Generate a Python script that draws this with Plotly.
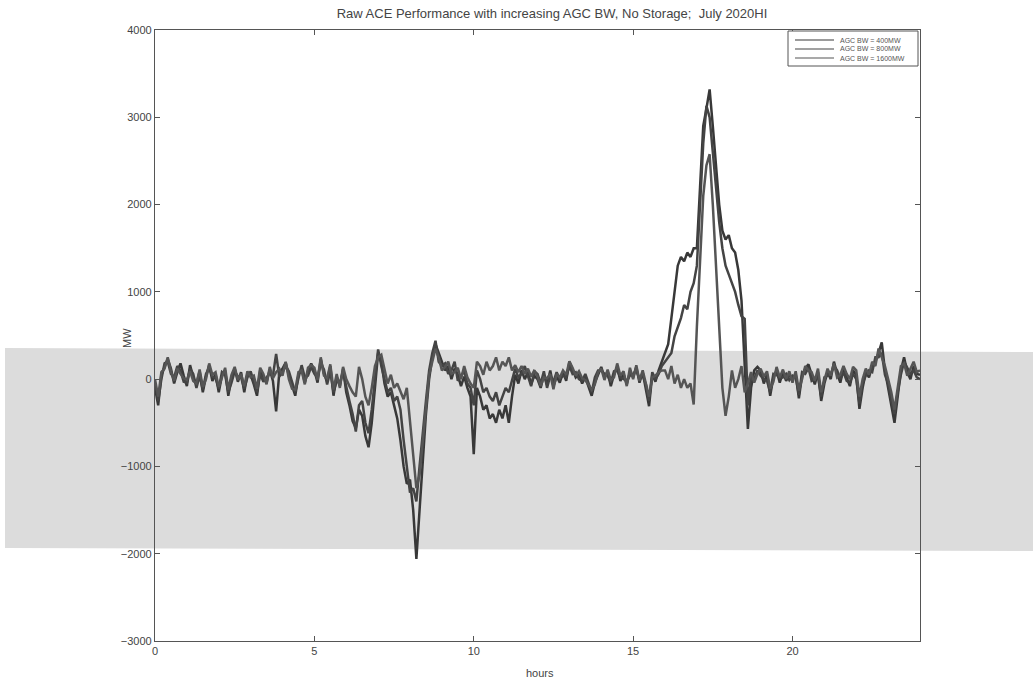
import plotly.graph_objects as go

# time axis: 0.0 .. 24.0 hours in 0.1 h steps
hours = [round(i * 0.1, 1) for i in range(241)]

ace_400 = [
    -100, -300, 50, 150, 230, 120, -50, 80, 180, 40,
    -80, 160, 20, -60, 90, -150, 30, 160, -20, 60,
    -150, 40, 100, -190, 20, 120, -30, 80, -150, 60,
    50, -60, -190, 100, 30, -40, 110, -20, -370, 80,
    120, 190, 40, -80, -190, 50, 120, -40, 90, 180,
    100, -40, 230, 60, -20, 150, -190, 30, -80, 120,
    -150, -300, -480, -560, -350, -420, -650, -780, -500, -100,
    300, 200, -50, -200, -150, -300, -450, -700, -1000, -1200,
    -1150, -1500, -2060, -1500, -900, -400, 0, 250, 400, 300,
    200, 100, 150, 0, 120, 50, -80, 30, -100, -200,
    -860, -100, -200, -350, -300, -450, -400, -500, -350, -450,
    -300, -500, -200, 50, -50, 100, 0, 80, -60, 40,
    0, -100, 50, -60, 100, -80, 30, -40, 80, -20,
    200, 100, 20, 60, -50, 20, -80, -190, -40, 50,
    140, 20, 90, -80, 50, 140, -20, 60, -60, 80,
    20, 140, -40, 80, -100, -310, 50, -30, 100, 200,
    300, 400, 700, 1000, 1300, 1400, 1350, 1450, 1400, 1500,
    1500, 2200, 2900, 3100, 3320, 2900, 2400, 2000, 1700, 1600,
    1650, 1500, 1450, 1250, 900, 200, -570, -100, 100, 140,
    100, -50, 60, -190, 20, 100, -40, 80, -20, 50,
    0, 60, -220, 40, 120, 170, 50, -60, 80, -250,
    -50, 80, 0, 200, 60, -40, 120, 30, -80, 100,
    50, -340, -100, 80, 20, 150, 200, 300, 420, 100,
    -100, -300, -500, -200, 100, 250, 80, 0, 150, 60,
    50,
]

ace_800 = [
    -50, -250, 0, 180, 200, 60, 20, 150, 100, -30,
    -40, 120, 60, -100, 40, -120, 60, 130, 30, 10,
    -110, 80, 50, -150, -40, 90, 30, 20, -110, 20,
    90, -20, -150, 60, -30, 20, 70, 40, 290, 30,
    80, 150, 90, -30, -150, 10, 160, 20, 40, 140,
    60, 20, 180, 110, -60, 90, -150, -20, -40, 80,
    -100, -250, -400, -600, -300, -250, -500, -620, -350, 0,
    340, 150, 0, -150, -100, -250, -200, -350, -700, -1000,
    -1300, -1250, -1400, -1000, -600, -250, 100, 300, 440, 200,
    150, 180, 60, 100, 200, -20, 40, 90, -50, -100,
    -300, 100, 0, -150, -100, -200, -250, -150, -300, -200,
    -100, -150, 0, 120, 20, 60, 150, 20, -80, 90,
    60, -50, 90, -100, 40, -30, 80, 0, 40, 20,
    150, 60, 80, 0, -20, 60, -40, -150, 20, 100,
    100, 60, 40, -40, 90, 100, 20, 0, -20, 40,
    60, 100, 0, 40, -60, -250, 80, 0, 60, 150,
    200, 250, 300, 490, 600, 700, 850, 800, 1000, 1100,
    1300, 2000, 2700, 3130, 3000, 2600, 2200, 1800, 1500, 1300,
    1200, 1100, 1000, 850, 720, 690, -300, 50, 0, 100,
    40, 0, -20, -150, 60, 50, 10, 20, 60, -10,
    40, 20, -180, 80, 60, 130, -20, 0, 30, -200,
    20, 40, 60, 150, 100, 0, 80, -20, -40, 60,
    0, -280, -50, 40, 100, 80, 250, 250, 300, 50,
    -50, -250, -400, -150, 50, 200, 120, 60, 100, 20,
    0,
]

ace_1600 = [
    0, -200, 80, 120, 250, 90, -20, 120, 60, 10,
    -10, 90, -20, -50, 110, -90, 0, 180, 50, 80,
    -90, 10, 130, -120, 50, 140, -10, 60, -80, 90,
    20, 40, -110, 130, 60, -60, 140, 10, 80, 120,
    40, 200, 0, -110, -120, 80, 100, -60, 130, 160,
    130, -10, 250, 40, 10, 170, -120, 60, -100, 140,
    0, -80, -150, -200, 140, 0, -200, -300, -100, 150,
    250, 280, 100, -50, 50, -100, -50, -150, -230, -100,
    -500, -900, -1250, -1100, -700, -300, 50, 200, 350, 250,
    100, 140, 200, 60, 80, 130, 0, 150, 20, -50,
    -100, 200, 150, 50, 200, 100, 150, 250, 100, 200,
    150, 250, 100, 160, 80, 150, 60, 120, 30, 100,
    30, -80, 20, 10, 60, -115, 60, 20, 100, 50,
    205, 130, 40, 90, 10, -10, -60, -120, -60, 80,
    120, -10, 110, -10, 20, 180, 40, 90, -80, 130,
    0, 160, -20, 100, -50, -200, 20, 40, 80, 100,
    100, 0, 150, -50, 50, -100, 0, -100, -50, -290,
    600, 1400, 2100, 2450, 2577, 2000, 1300, 600, -100, -420,
    -200, 100, -100, 0, 150, -150, -50, 80, -40, 60,
    120, 30, 90, -110, -30, 140, 20, 110, 0, 90,
    -40, 90, -130, 0, 150, 100, 80, -20, 120, -150,
    -20, 120, 40, 180, 20, 50, 150, 60, 0, 140,
    100, -200, 0, 120, 50, 200, 150, 350, 250, 150,
    0, -150, -350, -80, 150, 180, 40, 120, 200, 80,
    100,
]

series_names = ["AGC BW = 400MW", "AGC BW = 800MW", "AGC BW = 1600MW"]
series_values = [ace_400, ace_800, ace_1600]
series_colors = ["#383838", "#444444", "#555555"]

x_ticks = [0, 5, 10, 15, 20]
y_ticks = [-3000, -2000, -1000, 0, 1000, 2000, 3000, 4000]

FONT = "Liberation Sans, Arial, sans-serif"
TXT = "#444444"

fig = go.Figure()
for name, vals, col in zip(series_names, series_values, series_colors):
    fig.add_trace(go.Scatter(x=hours, y=vals, mode="lines", name=name,
                             line=dict(color=col, width=2.5), showlegend=False))

# body margin is removed by post_script, so figure pixels == screenshot pixels
W, H = 1033, 682
L, R, T, B = 155, 113, 30, 41
pw, ph = W - L - R, H - T - B


def px_x(p):  # screenshot x -> paper x
    return (p - L) / pw


def px_y(p):  # screenshot y -> paper y
    return (H - B - p) / ph


# scanned grey band (artefact of the original page)
band_path = "M {x0},{y0} L {x1},{y1} L {x1},{y2} L {x0},{y3} Z".format(
    x0=px_x(5), x1=px_x(1033), y0=px_y(348), y1=px_y(352), y2=px_y(551), y3=px_y(548))
fig.add_shape(type="path", xref="paper", yref="paper", path=band_path,
              fillcolor="#dcdcdc", line=dict(width=0), layer="below")

# compact legend box (MATLAB style)
fig.add_shape(type="rect", xref="paper", yref="paper",
              x0=px_x(788), x1=px_x(918), y0=px_y(66), y1=px_y(31),
              fillcolor="white", line=dict(color="#555555", width=1), layer="above")
row_y = [40, 49, 58]
for name, col, ry in zip(series_names, series_colors, row_y):
    fig.add_shape(type="line", xref="paper", yref="paper",
                  x0=px_x(795), x1=px_x(834), y0=px_y(ry), y1=px_y(ry),
                  line=dict(color=col, width=1.2), layer="above")
    fig.add_annotation(xref="paper", yref="paper", x=px_x(838), y=px_y(ry),
                       xanchor="left", yanchor="middle", showarrow=False,
                       text=name, font=dict(family=FONT, size=7, color="#555555"))

axis_common = dict(showline=True, linecolor="#555555", linewidth=1.2, mirror="ticks",
                   ticks="inside", ticklen=5, tickcolor="#555555",
                   showgrid=False, zeroline=False,
                   tickfont=dict(family=FONT, size=11, color=TXT))

fig.add_annotation(xref="paper", yref="paper", x=px_x(127), y=px_y(338),
                   xanchor="center", yanchor="middle", showarrow=False, textangle=-90,
                   text="MW", font=dict(family=FONT, size=11, color=TXT))
fig.add_annotation(xref="paper", yref="paper", x=px_x(540), y=px_y(673),
                   xanchor="center", yanchor="middle", showarrow=False,
                   text="hours", font=dict(family=FONT, size=11, color=TXT))

fig.update_layout(
    width=W, height=H,
    margin=dict(l=L, r=R, t=T, b=B),
    paper_bgcolor="white", plot_bgcolor="rgba(0,0,0,0)",
    title=dict(text="Raw ACE Performance with increasing AGC BW, No Storage;  July 2020HI",
               x=552 / W, xanchor="center", y=1 - 13 / H, yanchor="middle",
               font=dict(family=FONT, size=13, color=TXT)),
    xaxis=dict(range=[0, 24], tickvals=x_ticks, **axis_common),
    yaxis=dict(range=[-3000, 4000], tickvals=y_ticks, **axis_common),
    showlegend=False,
)

fig.write_html("out.html", config={"displayModeBar": False},
               post_script="document.body.style.margin='0';document.body.style.overflow='hidden';")
